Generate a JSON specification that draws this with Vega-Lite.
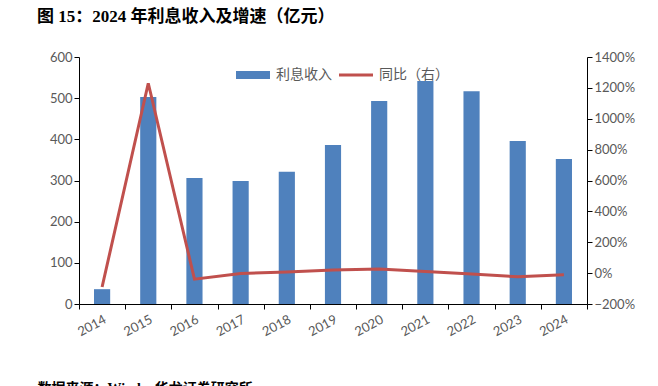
{
  "$schema": "https://vega.github.io/schema/vega-lite/v6.json",
  "width": 508,
  "height": 247,
  "autosize": {"type": "none"},
  "padding": {"left": 79, "top": 57, "right": 71, "bottom": 82},
  "background": "white",
  "title": {
    "text": "图 15：2024 年利息收入及增速（亿元）",
    "anchor": "start",
    "frame": "group",
    "dx": -42,
    "offset": 25,
    "font": "Liberation Serif, Noto Sans CJK SC",
    "fontSize": 17,
    "fontWeight": "bold",
    "color": "#000000"
  },
  "config": {
    "view": {"stroke": null},
    "axis": {
      "labelFont": "Lato, Open Sans",
      "labelFontSize": 13,
      "labelColor": "#595959",
      "domainColor": "#000000",
      "tickColor": "#000000",
      "domainWidth": 1,
      "tickWidth": 1,
      "tickSize": 5,
      "grid": false
    }
  },
  "data": {
    "values": [
      {"year": "2014", "income": 36, "growth": -0.9},
      {"year": "2015", "income": 503, "growth": 12.3},
      {"year": "2016", "income": 306, "growth": -0.39},
      {"year": "2017", "income": 299, "growth": -0.02},
      {"year": "2018", "income": 321, "growth": 0.07},
      {"year": "2019", "income": 386, "growth": 0.2},
      {"year": "2020", "income": 493, "growth": 0.27},
      {"year": "2021", "income": 542, "growth": 0.1},
      {"year": "2022", "income": 517, "growth": -0.05},
      {"year": "2023", "income": 396, "growth": -0.24},
      {"year": "2024", "income": 352, "growth": -0.11}
    ]
  },
  "encoding": {
    "x": {
      "field": "year",
      "type": "nominal",
      "scale": {"paddingInner": 0, "paddingOuter": 0},
      "axis": {
        "tickBand": "extent",
        "labelAngle": -28,
        "labelPadding": 4,
        "title": "数据来源：Wind，华龙证券研究所",
        "titleAnchor": "start",
        "titleAlign": "left",
        "titleX": -42,
        "titleY": 77,
        "titleBaseline": "top",
        "titleFont": "Liberation Serif, Noto Sans CJK SC",
        "titleFontSize": 14,
        "titleFontWeight": "bold",
        "titleColor": "#000000"
      }
    }
  },
  "layer": [
    {
      "mark": {"type": "bar", "width": {"band": 0.35}},
      "encoding": {
        "y": {
          "field": "income",
          "type": "quantitative",
          "scale": {"domain": [0, 600]},
          "axis": {"values": [0, 100, 200, 300, 400, 500, 600], "title": null, "orient": "left"}
        },
        "color": {
          "datum": "利息收入",
          "type": "nominal",
          "scale": {"domain": ["利息收入", "同比（右）"], "range": ["#4F81BD", "#C0504D"]},
          "legend": {
            "title": null,
            "orient": "none",
            "direction": "horizontal",
            "legendX": 157,
            "legendY": 1,
            "labelFont": "Noto Sans CJK SC",
            "labelFontSize": 14,
            "labelColor": "#595959",
            "symbolSize": 1156,
            "symbolStrokeWidth": 0,
            "labelOffset": 6,
            "columnPadding": 7,
            "encode": {
              "symbols": {
                "update": {
                  "shape": {"signal": "datum.value === '利息收入' ? 'M-1,-0.24H1V0.24H-1Z' : 'M-1,-0.09H1V0.09H-1Z'"},
                  "fill": {"signal": "scale('color', datum.value)"},
                  "stroke": {"value": "transparent"}
                }
              }
            }
          }
        }
      }
    },
    {
      "mark": {"type": "line", "strokeWidth": 3},
      "encoding": {
        "y": {
          "field": "growth",
          "type": "quantitative",
          "scale": {"domain": [-2, 14]},
          "axis": {"values": [-2, 0, 2, 4, 6, 8, 10, 12, 14], "format": ".0%", "title": null, "orient": "right"}
        },
        "color": {"datum": "同比（右）", "type": "nominal"}
      }
    }
  ],
  "resolve": {"scale": {"y": "independent"}}
}
